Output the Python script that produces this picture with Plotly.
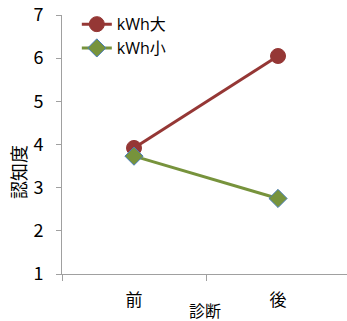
import plotly.graph_objects as go

categories = ["前", "後"]
large = [3.92, 6.05]
small = [3.73, 2.75]
series_names = ["kWh大", "kWh小"]
y_ticks = [1, 2, 3, 4, 5, 6, 7]

font_fam = "Noto Sans CJK JP, Open Sans, sans-serif"

fig = go.Figure()
fig.add_trace(go.Scatter(
    x=categories, y=large, name=series_names[0], mode="lines+markers",
    line=dict(color="#953735", width=3),
    marker=dict(symbol="circle", size=15, color="#953735", line=dict(color="#953735", width=1)),
))
fig.add_trace(go.Scatter(
    x=categories, y=small, name=series_names[1], mode="lines+markers",
    line=dict(color="#77933c", width=3),
    marker=dict(symbol="diamond", size=14, color="#77933c", line=dict(color="#4a7ebb", width=1)),
))

fig.update_layout(
    width=347, height=321,
    margin=dict(l=62, r=0, t=15, b=47, autoexpand=False),
    paper_bgcolor="white", plot_bgcolor="white",
    font=dict(family=font_fam, size=16, color="#000000"),
    showlegend=True,
    legend=dict(x=0.052, y=1.03, xanchor="left", yanchor="top",
                bgcolor="rgba(0,0,0,0)",
                font=dict(size=16, family="Open Sans, Noto Sans CJK JP, sans-serif"),
                tracegroupgap=0, itemwidth=30),
    xaxis=dict(
        type="category", range=[-0.5, 1.479], automargin=False,
        showline=True, linecolor="#a0a0a0", linewidth=1,
        ticks="outside", tickson="boundaries", ticklen=6, tickcolor="#a0a0a0",
        showgrid=False, zeroline=False, ticklabelstandoff=11,
        tickfont=dict(size=17),
    ),
    yaxis=dict(
        range=[1, 7], tickvals=y_ticks, automargin=False,
        showline=True, linecolor="#a0a0a0", linewidth=1,
        ticks="outside", ticklen=5, tickcolor="#a0a0a0",
        showgrid=False, zeroline=False, ticklabelstandoff=9,
        tickfont=dict(size=18),
    ),
    annotations=[
        dict(text="診断", xref="paper", yref="paper", x=0.5, y=-0.139,
             xanchor="center", yanchor="middle", showarrow=False,
             font=dict(size=16)),
        dict(text="認知度", xref="paper", yref="paper", x=-0.154, y=0.394,
             xanchor="center", yanchor="middle", textangle=-90, showarrow=False,
             font=dict(size=18)),
    ],
)

fig.write_html("out.html", config={"displayModeBar": False},
               post_script="document.body.style.margin='0';")
